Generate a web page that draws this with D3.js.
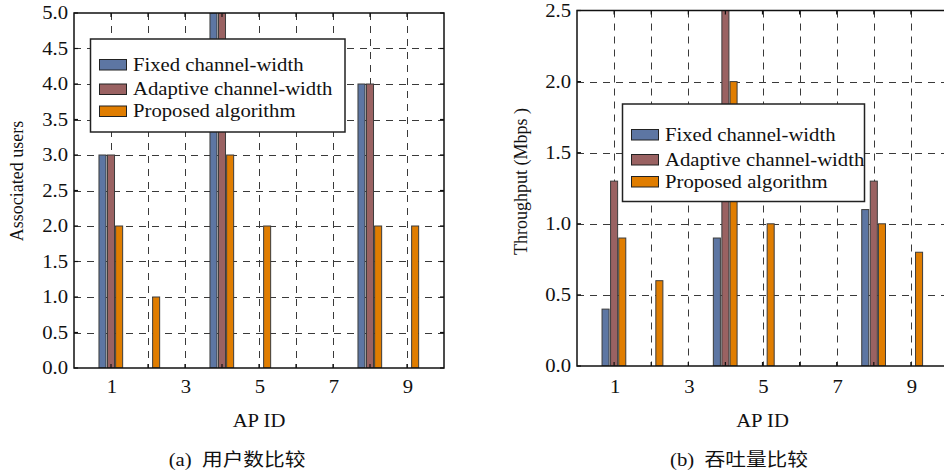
<!DOCTYPE html>
<html>
<head>
<meta charset="utf-8">
<script src="https://cdn.jsdelivr.net/npm/d3@7"></script>
<style>
  html, body { margin: 0; padding: 0; background: #fff; }
  svg { display: block; }
</style>
</head>
<body>
<svg id="chart" width="944" height="475"></svg>
<script>
// ---------- data ----------
const apIds = [1, 2, 3, 4, 5, 6, 7, 8, 9];
const seriesNames = ["Fixed channel-width", "Adaptive channel-width", "Proposed algorithm"];
const seriesColors = ["#5d76a3", "#9a6262", "#e07d00"];

const usersFixed    = [3, 0, 0, 5, 0, 0, 0, 4, 0];
const usersAdaptive = [3, 0, 0, 5, 0, 0, 0, 4, 0];
const usersProposed = [2, 1, 0, 3, 2, 0, 0, 2, 2];

const thrFixed    = [0.4, 0, 0, 0.9, 0, 0, 0, 1.1, 0];
const thrAdaptive = [1.3, 0, 0, 2.5, 0, 0, 0, 1.3, 0];
const thrProposed = [0.9, 0.6, 0, 2.0, 1.0, 0, 0, 1.0, 0.8];

const xTickLabels = [1, 3, 5, 7, 9];
const xGridValues = [1, 2, 3, 4, 5, 6, 7, 8, 9];
const usersYTicks = [0, 0.5, 1, 1.5, 2, 2.5, 3, 3.5, 4, 4.5, 5];
const thrYTicks = [0, 0.5, 1, 1.5, 2, 2.5];

const xLabel = "AP ID";
const usersYLabel = "Associated users";
const thrYLabel = "Throughput (Mbps )";
const captionA = "(a)\u00a0\u00a0用户数比较";
const captionB = "(b)\u00a0\u00a0吞吐量比较";

// ---------- drawing ----------
const svg = d3.select("#chart");
const FONT = "'Liberation Serif', 'Times New Roman', serif";
const CJK = "'Liberation Serif', 'Noto Sans CJK SC', serif";
const SX = 1.15;

function stext(parent, x, y, str, anchor, size, family) {
  return parent.append("text")
    .attr("transform", `translate(${x},${y}) scale(${SX},1)`)
    .attr("text-anchor", anchor)
    .attr("font-family", family || FONT)
    .attr("font-size", size)
    .attr("fill", "#111")
    .text(str);
}

function panel(cfg) {
  const g = svg.append("g");
  const x = d3.scaleLinear().domain([0, 10]).range([cfg.left, cfg.right]);
  const y = d3.scaleLinear().domain([0, cfg.ymax]).range([cfg.bottom, cfg.top]);
  const clipId = "clip" + cfg.id;
  svg.append("defs").append("clipPath").attr("id", clipId)
    .append("rect").attr("x", cfg.left).attr("y", cfg.top)
    .attr("width", cfg.right - cfg.left).attr("height", cfg.bottom - cfg.top);

  // grid
  const grid = g.append("g").attr("stroke", "#3a3a3a").attr("stroke-width", 1)
    .attr("stroke-dasharray", "7,6").attr("fill", "none");
  grid.selectAll("line.h").data(cfg.yTicks.filter(v => v > 0 && v < cfg.ymax)).join("line")
    .attr("x1", cfg.left).attr("x2", cfg.right)
    .attr("y1", d => Math.round(y(d)) + 0.5).attr("y2", d => Math.round(y(d)) + 0.5);
  grid.selectAll("line.v").data(xGridValues).join("line")
    .attr("y1", cfg.top).attr("y2", cfg.bottom)
    .attr("x1", d => Math.round(x(d)) + 0.5).attr("x2", d => Math.round(x(d)) + 0.5);

  // bars
  const offsets = [-0.23, 0, 0.22];
  const bw = 0.19;
  const barsG = g.append("g").attr("clip-path", `url(#${clipId})`);
  cfg.series.forEach((vals, si) => {
    barsG.append("g").selectAll("rect").data(apIds.map((id, i) => ({ id, v: vals[i] }))).join("rect")
      .attr("x", d => x(d.id + offsets[si] - bw / 2))
      .attr("width", d => x(bw) - x(0))
      .attr("y", d => y(d.v))
      .attr("height", d => y(0) - y(d.v))
      .attr("fill", seriesColors[si])
      .attr("stroke", "#3c3c3c").attr("stroke-width", 1);
  });

  // frame
  g.append("rect").attr("x", cfg.left).attr("y", cfg.top)
    .attr("width", cfg.right - cfg.left).attr("height", cfg.bottom - cfg.top)
    .attr("fill", "none").attr("stroke", "#111").attr("stroke-width", 1.5);

  // inward ticks
  const tk = g.append("g").attr("stroke", "#111").attr("stroke-width", 1.2);
  cfg.yTicks.forEach(v => {
    tk.append("line").attr("x1", cfg.left).attr("x2", cfg.left + 4).attr("y1", y(v)).attr("y2", y(v));
    tk.append("line").attr("x1", cfg.right).attr("x2", cfg.right - 4).attr("y1", y(v)).attr("y2", y(v));
  });
  xGridValues.forEach(v => {
    tk.append("line").attr("y1", cfg.top).attr("y2", cfg.top + 4).attr("x1", x(v)).attr("x2", x(v));
    tk.append("line").attr("y1", cfg.bottom).attr("y2", cfg.bottom - 4).attr("x1", x(v)).attr("x2", x(v));
  });

  // tick labels
  const fmt = d3.format(".1f");
  cfg.yTicks.forEach(v => {
    stext(g, cfg.left - 6, y(v) + 6, fmt(v), "end", 18);
  });
  xTickLabels.forEach(v => {
    stext(g, x(v) + 1, 393, String(v), "middle", 18);
  });

  // axis labels
  stext(g, x(5), 427, xLabel, "middle", 18);
  g.append("text")
    .attr("transform", `translate(${cfg.ylabelX},${cfg.ylabelY}) rotate(-90)`)
    .attr("text-anchor", "middle").attr("font-family", FONT).attr("font-size", 18)
    .attr("fill", "#111").text(cfg.ylabel);

  // caption
  stext(g, cfg.capX, 466, cfg.caption, "middle", 18, CJK);

  // legend
  const L = cfg.legend;
  const lg = g.append("g");
  lg.append("rect").attr("x", L.x).attr("y", L.y).attr("width", L.w).attr("height", L.h)
    .attr("fill", "#fff").attr("stroke", "#222").attr("stroke-width", 1.5);
  seriesNames.forEach((name, i) => {
    const py = L.rows[i];
    lg.append("rect").attr("x", L.x + 9).attr("y", py).attr("width", 27).attr("height", 10.5)
      .attr("fill", seriesColors[i]).attr("stroke", "#222").attr("stroke-width", 1);
    stext(lg, L.x + 42.5, py + 11, name, "start", 18);
  });
}

panel({
  id: "a", left: 74, right: 444, top: 13, bottom: 368, ymax: 5,
  yTicks: usersYTicks, series: [usersFixed, usersAdaptive, usersProposed],
  ylabel: usersYLabel, ylabelX: 23, ylabelY: 181,
  caption: captionA, capX: 237,
  legend: { x: 90.5, y: 39, w: 254.5, h: 93, rows: [59.5, 84, 106] }
});

panel({
  id: "b", left: 577, right: 948, top: 10.5, bottom: 366, ymax: 2.5,
  yTicks: thrYTicks, series: [thrFixed, thrAdaptive, thrProposed],
  ylabel: thrYLabel, ylabelX: 527, ylabelY: 181.5,
  caption: captionB, capX: 739,
  legend: { x: 622.5, y: 104, w: 242, h: 97.5, rows: [129.5, 154.5, 176.5] }
});
</script>
</body>
</html>
